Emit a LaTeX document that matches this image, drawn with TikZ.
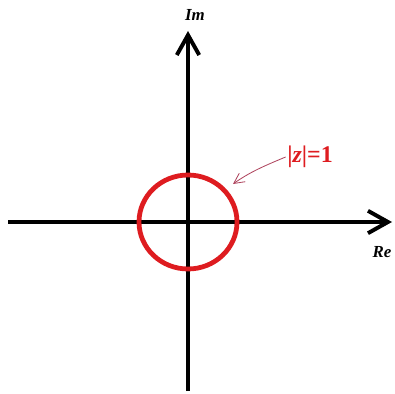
\documentclass[tikz,border=0pt]{standalone}
\usepackage{fontspec}
\setmainfont{Liberation Serif}
\usepackage{xcolor}
\usetikzlibrary{arrows.meta}
\definecolor{ringred}{RGB}{222,28,32}
\definecolor{notered}{RGB}{175,70,95}

\begin{document}
\begin{tikzpicture}[
    x=0.025cm, y=-0.025cm,
    axis/.style={line width=2.8pt, -{Straight Barb[length=5mm, width=5.6mm]}},
    ring/.style={draw=ringred, line width=3.4pt},
    axlabel/.style={font=\bfseries\itshape\fontsize{12}{14}\selectfont},
    note/.style={text=ringred, font=\bfseries\fontsize{17}{20}\selectfont, inner sep=1pt},
    pointer/.style={draw=notered, line width=0.6pt, -{Straight Barb[length=2.6mm, width=2.6mm]}},
]
\useasboundingbox (0,0) rectangle (395,394);
\coordinate (origin) at (188,222);
\coordinate (west) at (8,222);
\coordinate (east) at (392,222);
\coordinate (south) at (188,391);
\coordinate (north) at (188,31);
\node[axlabel] (imlbl) at (195,15) {Im};
\node[axlabel] (relbl) at (382,252) {Re};
\node[note] (zlbl) at (310,157) {|\textit{z}|=1};
\coordinate (tip) at (233,184);
\draw[axis] (west) -- (east);
\draw[axis] (south) -- (north);
\draw[ring] (origin) circle[x radius=49, y radius=47];
\draw[pointer] (zlbl.west) .. controls (264,166) and (250,172) .. (tip);
\end{tikzpicture}
\end{document}
